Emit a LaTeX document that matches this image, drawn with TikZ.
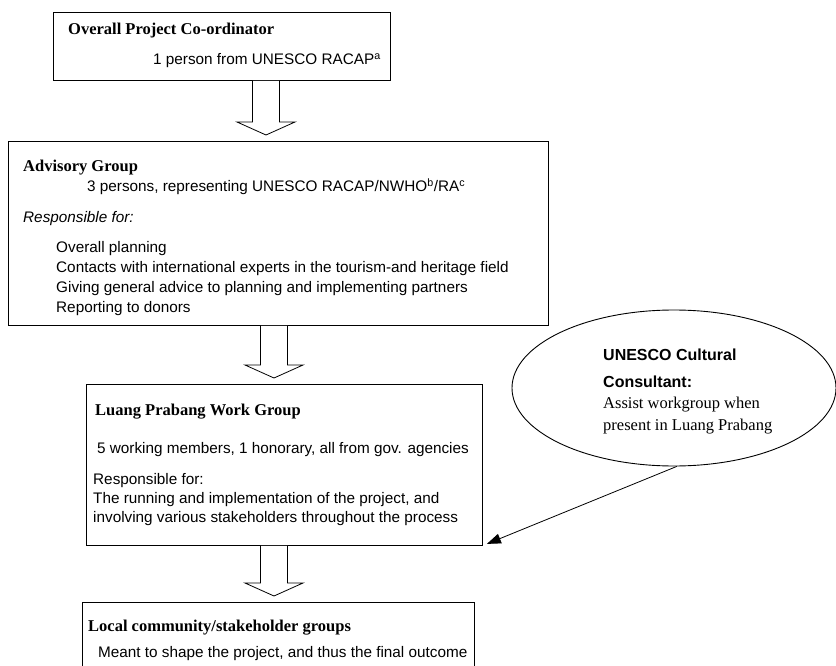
\documentclass[tikz,border=0pt]{standalone}
\usepackage{fontspec}
\setmainfont{Liberation Serif}
\setsansfont{Liberation Sans}
\usetikzlibrary{shapes.geometric,arrows.meta,calc}

\begin{document}
\begin{tikzpicture}[x=1pt,y=-1pt,
        box/.style={draw,line width=0.9pt,anchor=north west,inner sep=0pt},
        head/.style={anchor=west,inner sep=0pt,font=\fontsize{16.5}{19}\selectfont\bfseries},
        txt/.style={anchor=west,inner sep=0pt,font=\fontsize{15.3}{18}\selectfont\sffamily},
        blockarrow/.style={draw,line width=0.8pt,fill=white}]

    \useasboundingbox (0,0) rectangle (836,666);
    \clip (0,0) rectangle (836,666);

    % boxes
    \node[box,minimum width=337,minimum height=68] (coord) at (53,12) {};
    \node[box,minimum width=540,minimum height=184] (adv) at (8,141) {};
    \node[box,minimum width=396,minimum height=161] (work) at (86,384) {};
    \node[box,minimum width=392,minimum height=90] (local) at (82,602) {};
    \node[draw,ellipse,line width=0.9pt,minimum width=324,minimum height=156] (consult) at (674,388) {};

    \node[head] (coordname) at (68,31) {Overall Project Co-ordinator};
    \node[txt] (coordwho) at (153,61) {1 person from UNESCO RACAP\textsuperscript{a}};

    \node[head] (advname) at (23,168) {Advisory Group};
    \node[txt] (advwho) at (87,187) {3 persons, representing UNESCO RACAP/NWHO\textsuperscript{b}/RA\textsuperscript{c}};
    \node[txt] (advresp) at (23,219) {\itshape Responsible for:};
    \foreach \t [count=\i] in {Overall planning,
            Contacts with international experts in the tourism-and heritage field,
            Giving general advice to planning and implementing partners,
            Reporting to donors}
        \node[txt] (advtask\i) at (56,229+20*\i) {\t};

    \node[head] (workname) at (95,412) {Luang Prabang Work Group};
    \node[txt] (workwho) at (97,450) {5 working members, 1 honorary, all from gov. agencies};
    \node[txt] (workresp) at (93,481) {Responsible for:};
    \node[txt] (worktask1) at (93,500) {The running and implementation of the project, and};
    \node[txt] (worktask2) at (93,519) {involving various stakeholders throughout the process};

    \node[head] (localname) at (88,628) {Local community/stakeholder groups};
    \node[txt] (localwho) at (98,654) {Meant to shape the project, and thus the final outcome};

    \node[txt,font=\fontsize{16}{19}\selectfont\sffamily\bfseries] (consultname) at (603,355) {UNESCO Cultural};
    \node[txt,font=\fontsize{16}{19}\selectfont\sffamily\bfseries] (consultrole) at (603,382) {Consultant:};
    \node[txt,font=\fontsize{16.5}{19}\selectfont\rmfamily] (consulttask1) at (603,405) {Assist workgroup when};
    \node[txt,font=\fontsize{16.5}{19}\selectfont\rmfamily] (consulttask2) at (603,427) {present in Luang Prabang};

    % block arrows down the chain
    \foreach \a/\b/\x in {coord/adv/266,adv/work/274,work/local/274} {
        \coordinate (ax) at (\x,0);
        \draw[blockarrow] ($(ax|-\a.south)+(-13.5,0)$) -- ($(ax|-\b.north)+(-13.5,-19)$)
            -- ($(ax|-\b.north)+(-29,-19)$) -- ($(ax|-\b.north)+(0,-6)$)
            -- ($(ax|-\b.north)+(29,-19)$) -- ($(ax|-\b.north)+(13.5,-19)$)
            -- ($(ax|-\a.south)+(13.5,0)$);
    }

    \coordinate (tip) at ($(work.south east)+(4,-2)$);
    \draw[-{Triangle[length=14pt,width=10pt]},line width=0.8pt] (consult.272) -- (tip);
\end{tikzpicture}
\end{document}
